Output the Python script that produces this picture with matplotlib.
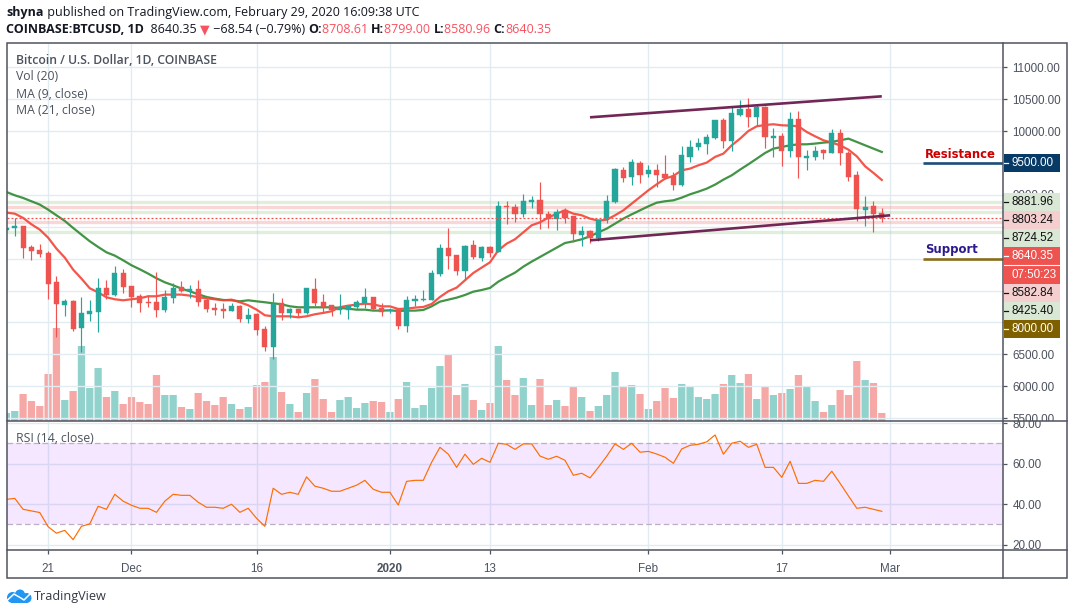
import numpy as np
import pandas as pd
import matplotlib
matplotlib.use('Agg')
import matplotlib.pyplot as plt
import matplotlib.dates as mdates
from matplotlib.patches import Rectangle, Circle
from matplotlib.transforms import Bbox

W, H = 1073, 615

# daily candles, first one is 2019-11-16
opens = [8451,8477,8508,8179,8132,8085,7630,7269,7332,6909,7127,7160,7536,7426,7771,7567,7411,7317,7317,7191,7379,7552,7489,7520,7348,7222,7207,7176,7254,7050,7129,6893,6611,7301,7144,7207,7144,7520,7317,7270,7191,7191,7238,7300,7394,7222,7175,7206,6940,7332,7347,7347,7755,8163,8053,7802,8210,8006,8178,8100,8821,8805,8696,8884,8915,8696,8617,8758,8664,8366,8429,8319,8601,8884,9385,9276,9495,9323,9385,9323,9291,9150,9589,9746,9793,9887,10169,9840,10248,10342,10216,10373,9887,9918,9683,10185,9574,9589,9699,9652,9965,9652,9307,8758,8821,8708.61]
highs = [8482,8644,8508,8210,8226,8116,7724,7364,7348,7395,7348,7693,7661,7881,7834,7567,7442,7426,7787,7505,7614,7646,7583,7661,7411,7301,7301,7301,7270,7223,7144,6940,7458,7379,7223,7207,7536,7693,7442,7270,7442,7275,7347,7536,7394,7300,7222,7206,7410,7426,7504,7818,8225,8476,8053,8210,8288,8194,8194,8899,8899,8852,9009,8978,9197,8743,8774,8790,8664,8507,8445,8617,8993,9417,9432,9560,9526,9464,9479,9621,9354,9762,9856,9887,9950,10169,10201,10389,10483,10514,10404,10389,10044,9965,10295,10310,9699,9762,9715,10028,10028,9683,9370,8978,8899,8799.00]
lows = [8451,8351,8006,7975,8022,7364,6768,7097,6862,6533,7019,6846,7364,7411,7458,7238,7160,7238,7081,7160,7301,7473,7379,7254,7160,7113,7066,7176,7003,6987,6799,6549,6423,7034,7066,7081,7129,7254,7160,7097,7129,7050,7206,7222,7191,7097,7144,6893,6846,7253,7332,7347,7724,7833,7739,7661,7990,7959,8021,8100,8539,8570,8648,8790,8460,8476,8445,8554,8257,8194,8241,8272,8554,8868,9197,9150,9181,9276,9119,9255,9072,9135,9511,9699,9636,9871,9730,9683,10232,10060,10075,9730,9589,9448,9589,9260,9385,9542,9558,9652,9464,9213,8586,8508,8414,8580.96]
closes = [8482,8508,8163,8116,8069,7599,7285,7332,6893,7144,7176,7536,7426,7771,7552,7395,7301,7301,7191,7395,7536,7489,7520,7317,7207,7191,7176,7254,7050,7113,6878,6611,7285,7144,7207,7144,7536,7301,7238,7191,7250,7259,7316,7394,7206,7159,7191,6940,7347,7363,7363,7771,8163,8037,7802,8194,8021,8178,8084,8821,8805,8696,8899,8915,8696,8617,8727,8633,8382,8429,8319,8601,8899,9401,9260,9511,9307,9385,9307,9260,9150,9621,9746,9809,9903,10169,9840,10279,10342,10216,10373,9903,9918,9683,10185,9589,9605,9683,9652,9965,9652,9276,8774,8806,8696,8640.35]
volumes = [8,10,27,20,15,47,93,21,30,75,33,53,24,30,17,24,19,17,46,26,26,14,12,28,20,16,24,17,12,14,36,39,64,29,17,9,28,42,22,9,21,24,13,18,20,19,9,22,39,13,16,33,55,66,26,37,21,11,18,75,41,26,43,16,42,16,21,15,34,24,10,15,26,49,34,36,27,12,20,33,23,37,35,24,22,27,37,46,38,47,22,34,26,28,32,46,34,20,9,16,31,26,60,41,38,8]
ma9 = [8722,8706,8639,8539,8456,8330,8158,8017,7829,7688,7536,7473,7395,7364,7348,7364,7379,7411,7411,7437,7437,7437,7421,7395,7379,7364,7348,7358,7317,7270,7202,7113,7097,7097,7097,7081,7097,7129,7150,7176,7240,7264,7280,7295,7285,7253,7253,7212,7217,7233,7243,7290,7400,7489,7546,7661,7776,7860,7943,8131,8236,8304,8413,8523,8570,8643,8706,8758,8706,8680,8628,8596,8612,8680,8758,8863,8967,9072,9166,9255,9297,9385,9412,9464,9506,9595,9647,9777,9882,10002,10075,10096,10107,10091,10086,10075,9986,9918,9856,9819,9777,9709,9605,9448,9344,9234]
ma21 = [9046,8994,8952,8900,8848,8769,8680,8592,8482,8377,8273,8184,8100,8048,7975,7897,7834,7766,7693,7630,7583,7531,7489,7442,7400,7374,7353,7348,7332,7348,7332,7317,7301,7285,7254,7238,7238,7238,7238,7238,7228,7217,7201,7201,7186,7186,7191,7180,7186,7186,7196,7253,7327,7358,7389,7431,7483,7509,7541,7640,7713,7781,7875,7954,8027,8100,8173,8246,8272,8304,8351,8413,8471,8549,8628,8695,8758,8821,8878,8900,8915,8957,9009,9051,9098,9161,9239,9307,9396,9480,9568,9657,9725,9751,9777,9793,9793,9804,9819,9830,9856,9882,9830,9777,9725,9673]
rsi = [42.3,42.8,37.4,36.6,35.8,28.8,25.6,27.0,22.4,29.0,30.2,38.9,37.4,44.8,41.4,39.4,37.9,37.9,35.9,41.4,44.8,44.3,44.3,40.9,38.4,38.4,37.9,39.9,35.9,37.9,33.0,29.0,47.8,44.8,45.8,44.8,53.4,48.8,47.8,46.3,46.3,47.8,49.3,51.7,47.3,45.8,45.8,39.5,51.2,51.7,51.7,60.6,68.0,64.6,58.1,64.6,59.6,62.6,60.6,70.0,69.5,67.0,69.7,69.7,63.7,62.1,63.6,61.6,54.2,55.2,52.9,58.1,63.6,69.7,67.0,70.0,65.6,66.0,64.7,63.1,60.1,67.2,69.0,69.5,70.7,74.1,64.6,70.0,71.0,68.0,69.5,58.1,58.1,53.2,61.1,50.2,50.2,51.7,51.2,56.2,50.2,44.0,37.9,38.4,37.4,36.4]

pivots_green = [8881.96, 8724.52, 8425.40]
pivots_pink = [8803.24, 8582.84]
last_price = 8640.35

upper_channel = (['2020-01-25', '2020-02-29'], [10216, 10545])
lower_channel = (['2020-01-25', '2020-03-01'], [8288, 8680])
resistance = (['2020-03-05', '2020-03-16'], 9500)
support = (['2020-03-05', '2020-03-16'], 8000)

date_ticks = ['2019-11-21', '2019-12-01', '2019-12-16', '2020-01-01', '2020-01-13', '2020-02-01', '2020-02-17', '2020-03-01']
date_labels = ['21', 'Dec', '16', '2020', '13', 'Feb', '17', 'Mar']
price_ticks = [5500, 6000, 6500, 7000, 7500, 8000, 8500, 9000, 9500, 10000, 10500, 11000]
# these sit under the price tags
covered_ticks = [7000, 7500, 8000, 8500]

up_color = '#26a69a'
down_color = '#ef5350'
grid_color = '#e1ecf2'
axis_color = '#50535e'
text_color = '#4c525e'
font = 'Liberation Sans'
ui_font = 'Open Sans'
tick_size = 8.4

plt.rcParams['font.family'] = [font, 'DejaVu Sans']

dates = mdates.date2num(pd.date_range('2019-11-16', periods=len(closes)))
opens, highs, lows, closes = map(np.array, (opens, highs, lows, closes))
volumes = np.array(volumes)
rising = closes >= opens
candle_colors = np.where(rising, up_color, down_color)

fig = plt.figure(figsize=(W / 100, H / 100), dpi=100, facecolor='white')

left, right = 7 / W, 1003.3 / W
vol_ax = fig.add_axes([left, 1 - 421 / H, right - left, (421 - 43.3) / H], zorder=1)
ax = fig.add_axes([left, 1 - 421 / H, right - left, (421 - 43.3) / H], sharex=vol_ax, zorder=2)
rsi_ax = fig.add_axes([left, 1 - 550 / H, right - left, (550 - 421) / H], sharex=vol_ax, zorder=2)
ax.patch.set_alpha(0)

# x axis: one day is about 8.34 px
day0 = mdates.date2num(pd.Timestamp('2019-11-21'))
vol_ax.set_xlim(day0 - 41.1 / 8.337, day0 + 955.2 / 8.337)

# volume sits on its own scale at the bottom of the price pane
vol_bars = vol_ax.bar(dates, volumes, width=0.87, color=candle_colors, alpha=0.5, linewidth=0)
for bar in vol_bars:
    bar.set_snap(False)
vol_ax.set_ylim(0, 377.7)
vol_ax.axis('off')

ax.set_ylim(5456, 11376)
ax.set_yticks(price_ticks)
ax.set_yticklabels(['' if v in covered_ticks else '%.2f' % v for v in price_ticks])
ax.grid(True, color=grid_color, linewidth=1.0, zorder=0)
ax.set_axisbelow(True)

for p in pivots_green:
    ax.axhline(p, color='#a5d29c', alpha=0.35, linewidth=2.4, zorder=1)
for p in pivots_pink:
    ax.axhline(p, color='#f08f8f', alpha=0.35, linewidth=2.4, zorder=1)

ax.plot(dates, ma21, color='#388e3c', linewidth=1.6, alpha=0.95, zorder=2)
ax.plot(dates, ma9, color='#f44336', linewidth=1.6, alpha=0.9, zorder=2)

ax.vlines(dates, lows, highs, colors=candle_colors, linewidth=0.85, zorder=3)
ax.bar(dates, closes - opens, bottom=opens, width=0.62, color=candle_colors, edgecolor=candle_colors, linewidth=0.3, zorder=4)

ax.axhline(last_price, color=down_color, linestyle=(0, (1.6, 1.6)), linewidth=0.9, zorder=5)

for line in (upper_channel, lower_channel):
    ax.plot(mdates.date2num(pd.to_datetime(line[0])), line[1], color='#6a1b4d', linewidth=1.9, alpha=0.95, zorder=6, solid_capstyle='butt')
ax.plot(mdates.date2num(pd.to_datetime(resistance[0])), [resistance[1]] * 2, color='#1d4e79', linewidth=1.9, zorder=6, solid_capstyle='butt')
ax.plot(mdates.date2num(pd.to_datetime(support[0])), [support[1]] * 2, color='#8a6d1c', linewidth=1.9, zorder=6, solid_capstyle='butt')

# RSI pane
rsi_ax.set_ylim(17.3, 81.0)
rsi_ax.axhspan(30, 70, color='#9915ff', alpha=0.1, linewidth=0, zorder=1)
rsi_ax.axhline(70, color='#bcaec8', linestyle=(0, (4.5, 2.5)), linewidth=0.9, zorder=2)
rsi_ax.axhline(30, color='#bcaec8', linestyle=(0, (4.5, 2.5)), linewidth=0.9, zorder=2)
rsi_ax.plot(dates, rsi, color='#ff6d00', linewidth=0.85, zorder=3)
rsi_ax.set_yticks([20, 40, 60, 80])
rsi_ax.set_yticklabels(['20.00', '40.00', '60.00', '80.00'])
rsi_ax.grid(True, color=grid_color, linewidth=1.0, zorder=0)
rsi_ax.set_axisbelow(True)

tick_pos = mdates.date2num(pd.to_datetime(date_ticks))
rsi_ax.set_xticks(tick_pos)
rsi_ax.set_xticklabels(date_labels)
ax.tick_params(axis='x', bottom=False, labelbottom=False)
for a in (ax, rsi_ax):
    a.yaxis.tick_right()
    a.tick_params(axis='y', length=3, width=0.9, color=axis_color, labelcolor=text_color, labelsize=tick_size, pad=3.5)
    for s in a.spines.values():
        s.set_visible(False)
rsi_ax.tick_params(axis='x', length=3, width=0.9, color=axis_color, labelcolor=text_color, labelsize=tick_size, pad=6)
for lab in rsi_ax.get_xticklabels():
    if lab.get_text() == '2020':
        lab.set_fontweight('bold')

# labels at the pane edges get cut by the pane border
price_clip = Bbox([[0, H - 421], [W, H - 43]])
rsi_clip = Bbox([[0, H - 550], [W, H - 421]])
for lab in ax.get_yticklabels():
    lab.set_clip_box(price_clip)
    lab.set_clip_on(True)
for lab in rsi_ax.get_yticklabels():
    lab.set_clip_box(rsi_clip)
    lab.set_clip_on(True)

# overlay in pixel coordinates for the frame, header and price tags
ov = fig.add_axes([0, 0, 1, 1], zorder=10)
ov.set_xlim(0, W)
ov.set_ylim(H, 0)
ov.axis('off')

ov.add_patch(Rectangle((7, 43.3), 1066.7 - 7, 578 - 43.3, fill=False, edgecolor=axis_color, linewidth=1.1))
ov.plot([1003.3, 1003.3], [43.3, 578], color=axis_color, linewidth=1.1)
ov.plot([7, 1066.7], [421, 421], color=axis_color, linewidth=1.1)
ov.plot([7, 1066.7], [550, 550], color=axis_color, linewidth=1.1)

tags = [
    (154, 172, '9500.00', '#083a66', 'white'),
    (193, 211, '8881.96', '#d9e8d5', '#111111'),
    (211, 229, '8803.24', '#f5cfcf', '#111111'),
    (229, 247, '8724.52', '#d9e8d5', '#111111'),
    (247, 265, '8640.35', '#ef5350', 'white'),
    (265, 284, '07:50:23', '#ef5350', 'white'),
    (284, 302, '8582.84', '#f5cfcf', '#111111'),
    (302, 320, '8425.40', '#d9e8d5', '#111111'),
    (320, 338, '8000.00', '#7f6000', 'white'),
]
for y0, y1, label, bg, fg in tags:
    ov.add_patch(Rectangle((1003.8, y0), 56.2, y1 - y0, facecolor=bg, edgecolor='none'))
    ov.text(1012, (y0 + y1) / 2 + 0.3, label, color=fg, fontsize=tick_size, va='center', ha='left')
    if label != '07:50:23':
        ov.plot([1003.8, 1007.5], [(y0 + y1) / 2] * 2, color=fg, linewidth=0.9)
ov.plot([1003.8, 1060], [265, 265], color='white', linewidth=0.8)

ov.text(925, 154.5, 'Resistance', color='#cc0000', fontsize=8.4, family='DejaVu Sans', fontweight='bold', va='center')
ov.text(925, 249.5, 'Support', color='#2a1a8e', fontsize=8.4, family='DejaVu Sans', fontweight='bold', va='center')

# pane legends
ov.text(15.5, 60, 'Bitcoin / U.S. Dollar, 1D, COINBASE', color=text_color, fontsize=8.8, family=ui_font, fontweight='semibold', va='center')
ov.text(15.5, 77, 'Vol (20)', color=text_color, fontsize=8.8, family=ui_font, va='center')
ov.text(15.5, 94, 'MA (9, close)', color=text_color, fontsize=8.8, family=ui_font, va='center')
ov.text(15.5, 111, 'MA (21, close)', color=text_color, fontsize=8.8, family=ui_font, va='center')
ov.text(15.5, 438, 'RSI (14, close)', color=text_color, fontsize=8.8, family=ui_font, va='center')


def run_of_text(x, y, pieces, size):
    # draws coloured pieces one after the other on a line
    renderer = fig.canvas.get_renderer()
    for s, color, weight in pieces:
        t = ov.text(x, y, s, color=color, fontsize=size, family=['Open Sans', 'DejaVu Sans'], fontweight=weight, va='center', ha='left')
        x = t.get_window_extent(renderer).x1
    return x


dark = '#131722'
red = '#f7525f'
run_of_text(6.5, 12.5, [('shyna', dark, 'bold'), ('\u00a0published on TradingView.com, February 29, 2020 16:09:38 UTC', dark, 'normal')], 9.0)
run_of_text(6.5, 29.5, [
    ('COINBASE:BTCUSD, 1D', dark, 'bold'), ('\u00a0\u00a08640.35\u00a0', dark, 'normal'), ('\u25bc', red, 'normal'),
    ('\u00a0\u221268.54 (\u22120.79%)\u00a0', dark, 'normal'),
    ('O:', dark, 'bold'), ('8708.61\u00a0', red, 'normal'),
    ('H:', dark, 'bold'), ('8799.00\u00a0', red, 'normal'),
    ('L:', dark, 'bold'), ('8580.96\u00a0', red, 'normal'),
    ('C:', dark, 'bold'), ('8640.35', red, 'normal'),
], 9.0)

# TradingView cloud
cloud = '#2196f3'
for cx, cy, r in [(12.5, 597.5, 5.5), (20, 594.5, 5.0), (26.5, 598, 5.0)]:
    ov.add_patch(Circle((cx, cy), r, facecolor=cloud, edgecolor='none'))
ov.add_patch(Rectangle((11, 597), 16, 5.8, facecolor=cloud, edgecolor='none'))
ov.plot([7.5, 14, 20, 24, 31], [600, 594, 597.5, 600, 593], color='white', linewidth=1.1)
ov.text(34, 596.5, 'TradingView', color='#333a45', fontsize=9.1, family=ui_font, va='center')

fig.savefig('out.png', dpi=100, facecolor='white')
